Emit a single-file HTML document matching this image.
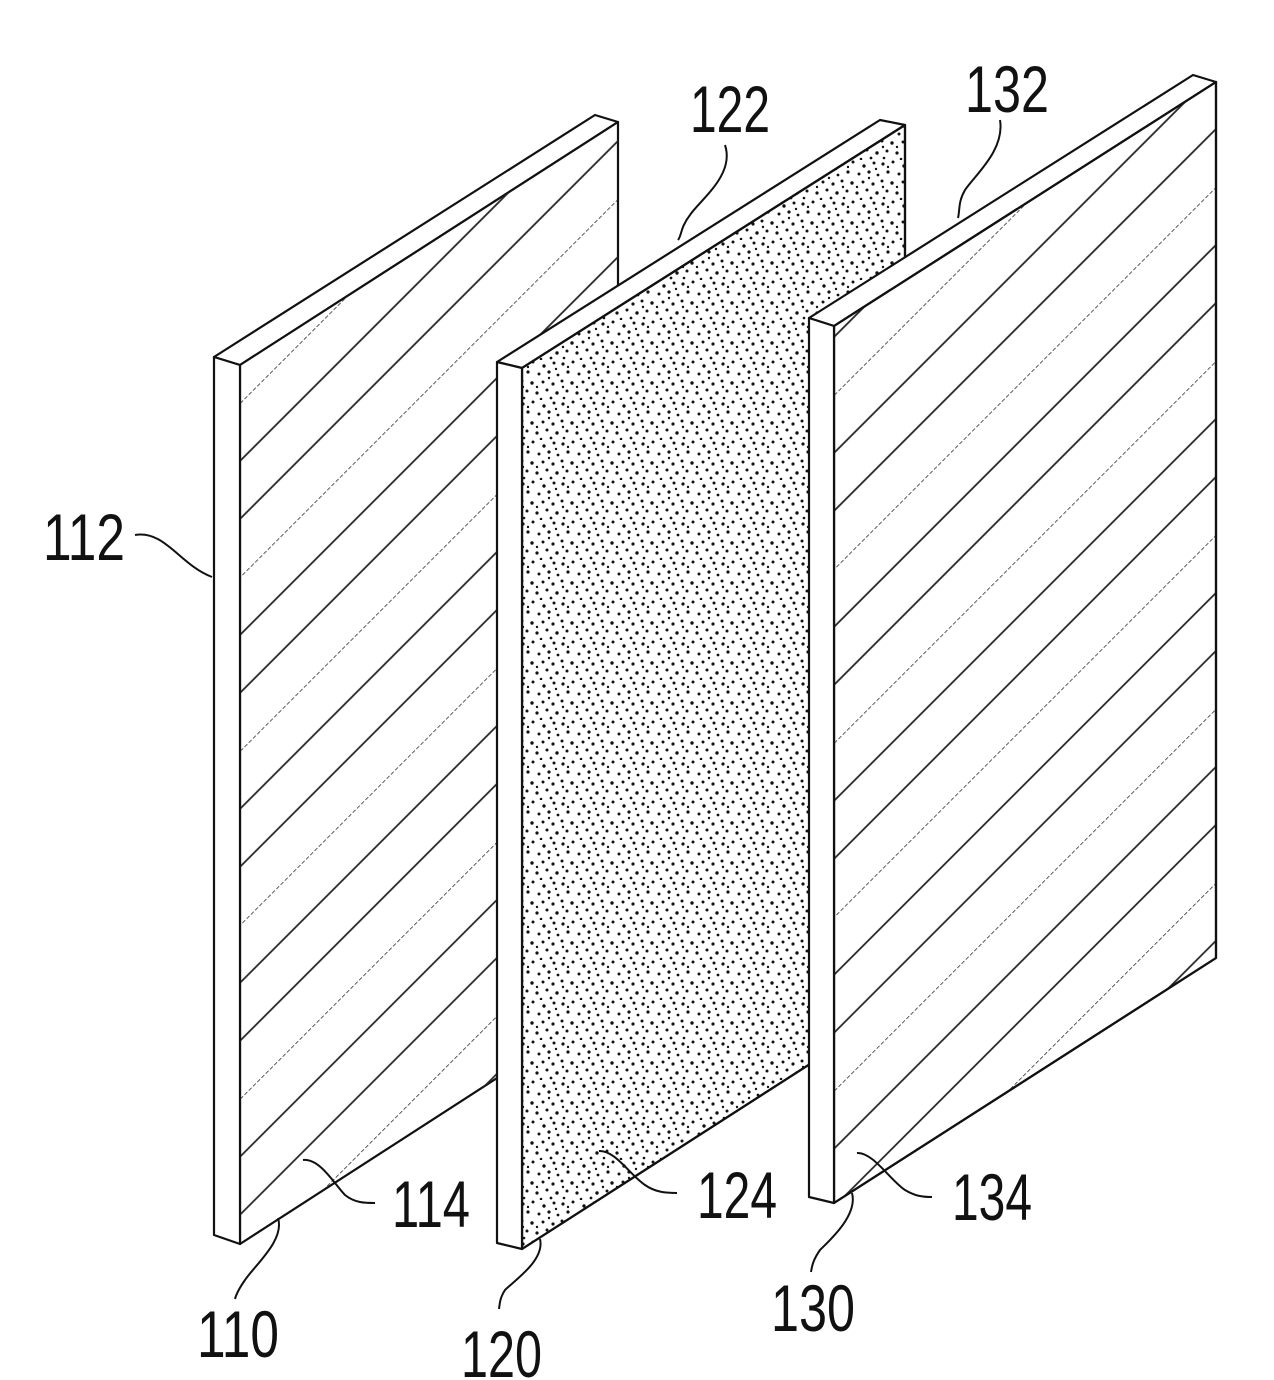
<!DOCTYPE html>
<html><head><meta charset="utf-8"><style>
html,body{margin:0;padding:0;background:#fff;}
svg{display:block;}
text{font-family:"Liberation Sans",sans-serif;font-size:66px;fill:#111;}
</style></head><body>
<svg width="1274" height="1380" viewBox="0 0 1274 1380" xmlns="http://www.w3.org/2000/svg">
<defs>
<pattern id="h1" patternUnits="userSpaceOnUse" width="300" height="123" patternTransform="translate(240,403) rotate(-45)">
<line x1="0" y1="0" x2="300" y2="0" stroke="#222" stroke-width="1.6" stroke-dasharray="4,2"/>
<line x1="0" y1="41" x2="300" y2="41" stroke="#222" stroke-width="1.8"/>
<line x1="0" y1="82" x2="300" y2="82" stroke="#222" stroke-width="1.8"/>
</pattern>
<pattern id="h3" patternUnits="userSpaceOnUse" width="300" height="123" patternTransform="translate(834,395) rotate(-45)">
<line x1="0" y1="0" x2="300" y2="0" stroke="#222" stroke-width="1.6" stroke-dasharray="4,2"/>
<line x1="0" y1="41" x2="300" y2="41" stroke="#222" stroke-width="1.8"/>
<line x1="0" y1="82" x2="300" y2="82" stroke="#222" stroke-width="1.8"/>
</pattern>
<pattern id="dots" patternUnits="userSpaceOnUse" width="40" height="40">
<g fill="#111">
<circle cx="3" cy="4" r="1.6"/><circle cx="13" cy="2" r="1.5"/><circle cx="24" cy="6" r="1.7"/><circle cx="34" cy="3" r="1.5"/>
<circle cx="8" cy="12" r="1.6"/><circle cx="19" cy="14" r="1.5"/><circle cx="29" cy="12" r="1.6"/><circle cx="38" cy="15" r="1.4"/>
<circle cx="2" cy="21" r="1.5"/><circle cx="12" cy="23" r="1.7"/><circle cx="23" cy="22" r="1.5"/><circle cx="33" cy="24" r="1.6"/>
<circle cx="7" cy="31" r="1.5"/><circle cx="17" cy="33" r="1.6"/><circle cx="27" cy="30" r="1.5"/><circle cx="37" cy="33" r="1.7"/>
<circle cx="4" cy="38" r="1.3"/><circle cx="21" cy="39" r="1.3"/><circle cx="31" cy="38" r="1.4"/>
<circle cx="8" cy="7" r="1.2"/><circle cx="29" cy="18" r="1.2"/><circle cx="17" cy="27" r="1.2"/><circle cx="36" cy="9" r="1.2"/><circle cx="3" cy="27" r="1.2"/>
</g>
</pattern>
</defs>
<g stroke="#111" stroke-width="2.2" stroke-linejoin="round" fill="#fff">
<polygon points="214,357 595,115 618,122 240,365"/>
<polygon points="240,365 618,122 618,1000 240,1244"/>
<polygon points="240,365 618,122 618,1000 240,1244" fill="url(#h1)" stroke="none"/>
<polygon points="214,357 240,365 240,1244 214,1235"/>
<polygon points="497,362 880,120 905,125 522,368"/>
<polygon points="522,368 905,125 905,1003 522,1249" fill="#fff"/>
<polygon points="522,368 905,125 905,1003 522,1249" fill="url(#dots)"/>
<polygon points="497,362 522,368 522,1249 497,1243"/>
<polygon points="809,318 1193,75 1216,82 834,326"/>
<polygon points="834,326 1216,82 1216,958 834,1203"/>
<polygon points="834,326 1216,82 1216,958 834,1203" fill="url(#h3)" stroke="none"/>
<polygon points="834,326 1216,82 1216,958 834,1203" fill="none"/>
<polygon points="809,318 834,326 834,1203 809,1197"/>
</g>
<g stroke="#111" stroke-width="2" fill="none">
<path d="M135,535 C165,530 180,565 212,577"/>
<path d="M725,145 C735,175 700,200 690,215 C680,228 682,235 678,240"/>
<path d="M1000,120 C1005,150 975,175 965,190 C958,202 960,210 958,218"/>
<path d="M278,1218 C285,1240 255,1265 245,1280 C238,1290 236,1295 235,1299"/>
<path d="M303,1160 C320,1158 335,1185 345,1195 C355,1203 365,1203 375,1203"/>
<path d="M540,1239 C545,1260 515,1280 505,1290 C500,1298 500,1302 499,1309"/>
<path d="M599,1151 C615,1150 630,1175 645,1185 C655,1192 665,1193 677,1193"/>
<path d="M852,1193 C858,1215 830,1240 820,1250 C813,1260 812,1266 811,1272"/>
<path d="M857,1153 C873,1152 890,1180 905,1190 C915,1196 922,1197 932,1197"/>
</g>
<text x="43" y="560" textLength="82" lengthAdjust="spacingAndGlyphs">112</text>
<text x="690" y="132" textLength="80" lengthAdjust="spacingAndGlyphs">122</text>
<text x="965" y="112" textLength="84" lengthAdjust="spacingAndGlyphs">132</text>
<text x="392" y="1227" textLength="78" lengthAdjust="spacingAndGlyphs">114</text>
<text x="697" y="1218" textLength="80" lengthAdjust="spacingAndGlyphs">124</text>
<text x="952" y="1220" textLength="80" lengthAdjust="spacingAndGlyphs">134</text>
<text x="197" y="1357" textLength="82" lengthAdjust="spacingAndGlyphs">110</text>
<text x="461" y="1377" textLength="81" lengthAdjust="spacingAndGlyphs">120</text>
<text x="771" y="1331" textLength="84" lengthAdjust="spacingAndGlyphs">130</text>
</svg>
</body></html>
